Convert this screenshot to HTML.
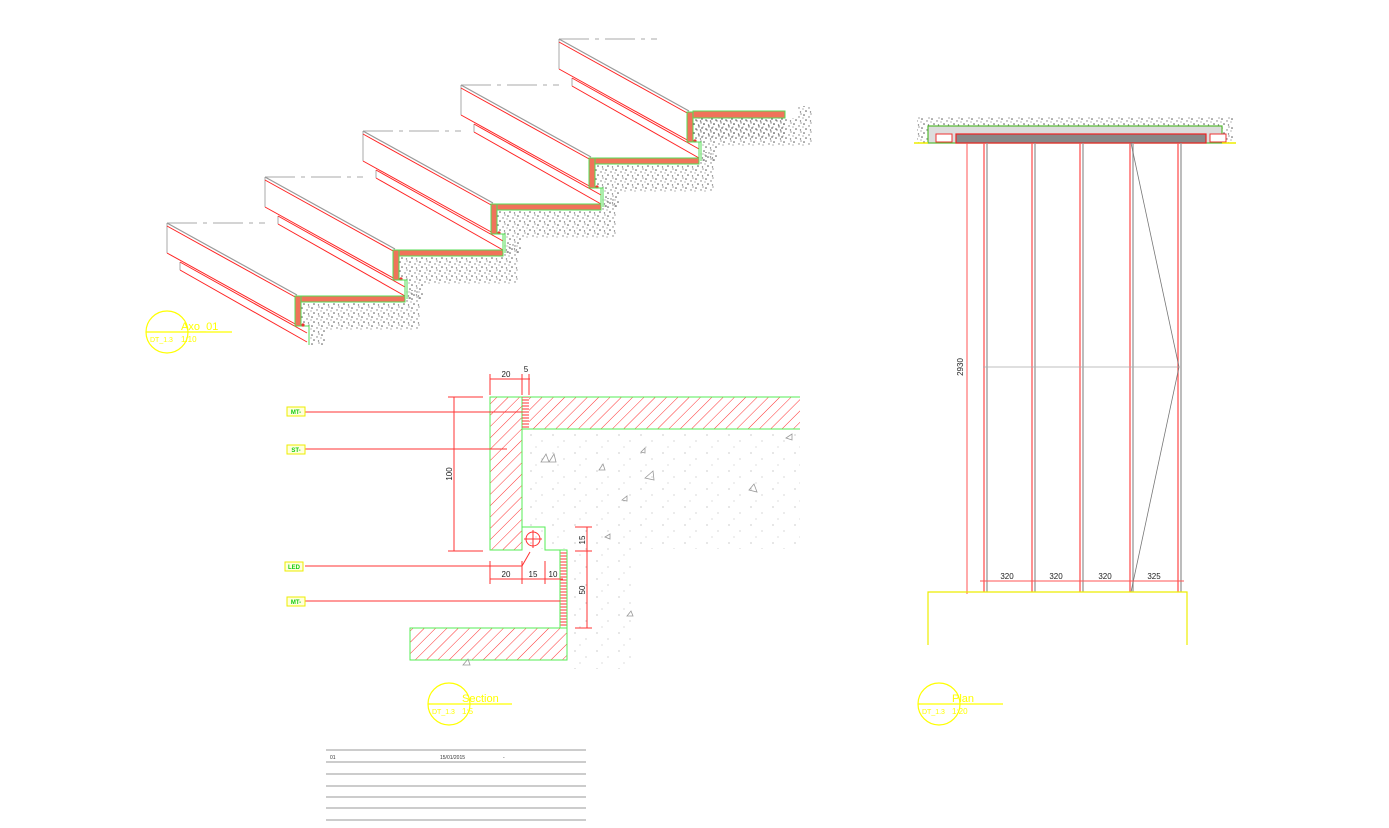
<!DOCTYPE html>
<html><head><meta charset="utf-8"><style>
html,body{margin:0;padding:0;background:#fff;}
svg{display:block;}
text{font-family:"Liberation Sans",sans-serif;}
</style></head><body>
<svg width="1389" height="828" viewBox="0 0 1389 828" xmlns="http://www.w3.org/2000/svg">
<defs>
<pattern id="spk" width="10" height="9" patternUnits="userSpaceOnUse">
<circle cx="2" cy="2" r="0.8" fill="#555"/><circle cx="7" cy="4" r="0.7" fill="#777"/><circle cx="9" cy="1" r="0.6" fill="#666"/><circle cx="4" cy="7" r="0.8" fill="#555"/><circle cx="8.5" cy="8" r="0.7" fill="#777"/><circle cx="1" cy="5" r="0.6" fill="#888"/>
</pattern>
<pattern id="spk2" width="22" height="18" patternUnits="userSpaceOnUse">
<circle cx="3" cy="3" r="0.6" fill="#aaa"/><circle cx="14" cy="9" r="0.6" fill="#bbb"/><circle cx="8" cy="15" r="0.5" fill="#aaa"/>
</pattern>
<pattern id="hat" width="8" height="8" patternUnits="userSpaceOnUse" patternTransform="rotate(45)">
<line x1="0" y1="0" x2="0" y2="8" stroke="#f33" stroke-width="1"/>
</pattern>
<pattern id="hz" width="4" height="3" patternUnits="userSpaceOnUse">
<line x1="0" y1="1" x2="4" y2="1" stroke="#f33" stroke-width="1"/>
</pattern>
<g id="step">
<polygon points="301,302 405,302 405,290 420,290 420,330 325,330 325,345 309,345 309,326 301,326" fill="url(#spk)"/>
<line x1="167" y1="223" x2="265" y2="223" stroke="#aaa" stroke-dasharray="30,6,4,6"/>
<line x1="167" y1="223" x2="167" y2="253" stroke="#aaa"/>
<line x1="167" y1="223" x2="297" y2="295" stroke="#999" stroke-width="1.2"/>
<line x1="167" y1="226" x2="297" y2="298" stroke="#f22"/>
<line x1="167" y1="253" x2="297" y2="325" stroke="#f22"/>
<line x1="180" y1="262" x2="180" y2="270" stroke="#aaa"/>
<line x1="180" y1="262" x2="307" y2="333" stroke="#f22"/>
<line x1="180" y1="270" x2="307" y2="342" stroke="#f22"/>
<rect x="295" y="296" width="6" height="30" fill="#f0735a" stroke="#5d5" stroke-width="1"/>
<polyline points="301,326 309,326 309,345" fill="none" stroke="#5d5"/>
<circle cx="303" cy="325" r="1.6" fill="#e33"/>
</g>
<g id="bar"><rect x="301" y="296" width="104" height="6" fill="#f0735a" stroke="#5d5"/>
<polyline points="405,296 405,280 398,280" fill="none" stroke="#5d5"/></g>
</defs>

<use href="#step"/>
<use href="#step" transform="translate(98,-46)"/>
<use href="#step" transform="translate(196,-92)"/>
<use href="#step" transform="translate(294,-138)"/>
<use href="#step" transform="translate(392,-184)"/>
<use href="#bar"/>
<use href="#bar" transform="translate(98,-46)"/>
<use href="#bar" transform="translate(196,-92)"/>
<use href="#bar" transform="translate(294,-138)"/>
<rect x="693" y="111" width="92" height="7" fill="#f0735a" stroke="#5d5"/>
<rect x="693" y="118" width="92" height="20" fill="url(#spk)"/>

<g fill="none" stroke="#ff0" stroke-width="1.2">
<circle cx="167" cy="332" r="21"/><line x1="146" y1="332" x2="232" y2="332"/>
<circle cx="449" cy="704" r="21"/><line x1="428" y1="704" x2="512" y2="704"/>
<circle cx="939" cy="704" r="21"/><line x1="918" y1="704" x2="1003" y2="704"/>
</g>
<g fill="#ff0" font-size="11">
<text x="181" y="330">Axo_01</text><text x="181" y="342" font-size="8">1:10</text>
<text x="150" y="342" font-size="7">DT_1.3</text>
<text x="462" y="702">Section</text><text x="462" y="714" font-size="8">1:5</text>
<text x="432" y="714" font-size="7">DT_1.3</text>
<text x="952" y="702">Plan</text><text x="952" y="714" font-size="8">1:20</text>
<text x="922" y="714" font-size="7">DT_1.3</text>
</g>

<rect x="522" y="429" width="278" height="120" fill="url(#spk2)"/>
<rect x="567" y="549" width="70" height="120" fill="url(#spk2)"/>
<rect x="490" y="397" width="32" height="153" fill="url(#hat)" stroke="#5e5"/>
<rect x="529" y="397" width="271" height="32" fill="url(#hat)"/>
<polyline points="522,397 800,397" stroke="#5e5" fill="none"/>
<polyline points="522,429 800,429" stroke="#5e5" fill="none"/>
<rect x="522" y="397" width="7" height="32" fill="url(#hz)"/>
<polyline points="522,527 545,527 545,550 560,550" stroke="#5e5" fill="none"/>
<rect x="560" y="550" width="7" height="78" fill="url(#hz)" stroke="#5e5"/>
<rect x="410" y="628" width="157" height="32" fill="url(#hat)" stroke="#5e5"/>
<circle cx="533" cy="539" r="7" fill="none" stroke="#f33"/>
<line x1="524" y1="539" x2="542" y2="539" stroke="#f33"/><line x1="533" y1="530" x2="533" y2="548" stroke="#f33"/>
<g stroke="#f33" stroke-width="1" fill="none">
<line x1="305" y1="412" x2="527" y2="412"/>
<line x1="305" y1="449" x2="507" y2="449"/>
<line x1="305" y1="566" x2="522" y2="566"/><line x1="522" y1="566" x2="530" y2="552"/>
<line x1="305" y1="601" x2="560" y2="601"/>
<line x1="454" y1="397" x2="454" y2="551"/><line x1="448" y1="397" x2="483" y2="397"/><line x1="448" y1="551" x2="483" y2="551"/>
<line x1="490" y1="379" x2="530" y2="379"/><line x1="490" y1="374" x2="490" y2="395"/><line x1="522" y1="374" x2="522" y2="395"/><line x1="529" y1="374" x2="529" y2="395"/>
<line x1="490" y1="579" x2="563" y2="579"/><line x1="490" y1="561" x2="490" y2="584"/><line x1="522" y1="561" x2="522" y2="584"/><line x1="545" y1="561" x2="545" y2="584"/>
<line x1="587" y1="527" x2="587" y2="628"/><line x1="575" y1="527" x2="592" y2="527"/><line x1="575" y1="551" x2="592" y2="551"/><line x1="575" y1="628" x2="592" y2="628"/>
</g>
<g font-size="8" fill="#222" text-anchor="middle">
<text x="506" y="377">20</text><text x="526" y="372">5</text>
<text x="506" y="577">20</text><text x="533" y="577">15</text><text x="553" y="577">10</text>
<text transform="translate(452,474) rotate(-90)">100</text>
<text transform="translate(585,540) rotate(-90)">15</text>
<text transform="translate(585,590) rotate(-90)">50</text>
</g>
<g fill="none" stroke="#999" stroke-width="0.8">
<path d="M541,462 l5,-8 l3,8z M549,462 l5,-8 l2,8z M645,478 l8,-7 l1,9z M749,490 l5,-6 l3,8z M599,470 l4,-6 l2,6z M622,500 l5,-4 l0,5z M786,438 l6,-4 l0,6z M463,665 l5,-6 l2,6z M605,537 l5,-3 l0,5z M627,616 l4,-5 l2,5z M641,452 l4,-4 l0,5z"/>
</g>
<g font-size="6" font-weight="bold" fill="#1c1" text-anchor="middle">
<rect x="287" y="407" width="18" height="9" fill="#ffd" stroke="#ee0"/><text x="296" y="414">MT-</text>
<rect x="287" y="445" width="18" height="9" fill="#ffd" stroke="#ee0"/><text x="296" y="452">ST-</text>
<rect x="285" y="562" width="18" height="9" fill="#ffd" stroke="#ee0"/><text x="294" y="569">LED</text>
<rect x="287" y="597" width="18" height="9" fill="#ffd" stroke="#ee0"/><text x="296" y="604">MT-</text>
</g>

<rect x="917" y="117" width="316" height="26" fill="url(#spk)"/>
<rect x="928" y="126" width="294" height="17" fill="#ddd" stroke="#5b3" stroke-width="1.2"/>
<rect x="956" y="134" width="250" height="9" fill="#888" stroke="#e22" stroke-width="1.2"/>
<rect x="936" y="134" width="16" height="8" fill="#fff" stroke="#e33"/>
<rect x="1210" y="134" width="16" height="8" fill="#fff" stroke="#e33"/>
<line x1="914" y1="143" x2="928" y2="143" stroke="#ee0" stroke-width="1.5"/>
<line x1="1222" y1="143" x2="1236" y2="143" stroke="#ee0" stroke-width="1.5"/>
<g stroke-width="1.3">
<line x1="984" y1="143" x2="984" y2="592" stroke="#f55"/><line x1="987" y1="143" x2="987" y2="592" stroke="#999"/>
<line x1="1032" y1="143" x2="1032" y2="592" stroke="#f55"/><line x1="1035" y1="143" x2="1035" y2="592" stroke="#999"/>
<line x1="1080" y1="143" x2="1080" y2="592" stroke="#f55"/><line x1="1083" y1="143" x2="1083" y2="592" stroke="#999"/>
<line x1="1130" y1="143" x2="1130" y2="592" stroke="#f55"/><line x1="1133" y1="143" x2="1133" y2="592" stroke="#999"/>
<line x1="1178" y1="143" x2="1178" y2="592" stroke="#f55"/><line x1="1181" y1="143" x2="1181" y2="592" stroke="#999"/>
</g>
<polyline points="1131,143 1179,367 1131,592" fill="none" stroke="#777" stroke-width="0.8"/>
<line x1="983" y1="367" x2="1179" y2="367" stroke="#aaa" stroke-width="0.8"/>
<line x1="967" y1="143" x2="967" y2="594" stroke="#f55"/>
<line x1="980" y1="581" x2="1184" y2="581" stroke="#f55"/>
<polyline points="928,645 928,592 1187,592 1187,645" fill="none" stroke="#ee0" stroke-width="1.2"/>
<g font-size="8" fill="#222" text-anchor="middle">
<text x="1007" y="579">320</text><text x="1056" y="579">320</text><text x="1105" y="579">320</text><text x="1154" y="579">325</text>
<text transform="translate(963,367) rotate(-90)">2930</text>
</g>

<g stroke="#999" stroke-width="1">
<line x1="326" y1="750" x2="586" y2="750"/><line x1="326" y1="762" x2="586" y2="762"/>
<line x1="326" y1="774" x2="586" y2="774"/><line x1="326" y1="786" x2="586" y2="786"/>
<line x1="326" y1="797" x2="586" y2="797"/><line x1="326" y1="808" x2="586" y2="808"/>
<line x1="326" y1="820" x2="586" y2="820"/>
</g>
<g font-size="5" fill="#333"><text x="330" y="759">01</text><text x="440" y="759">15/01/2015</text><text x="503" y="759">-</text></g>
</svg>
</body></html>
